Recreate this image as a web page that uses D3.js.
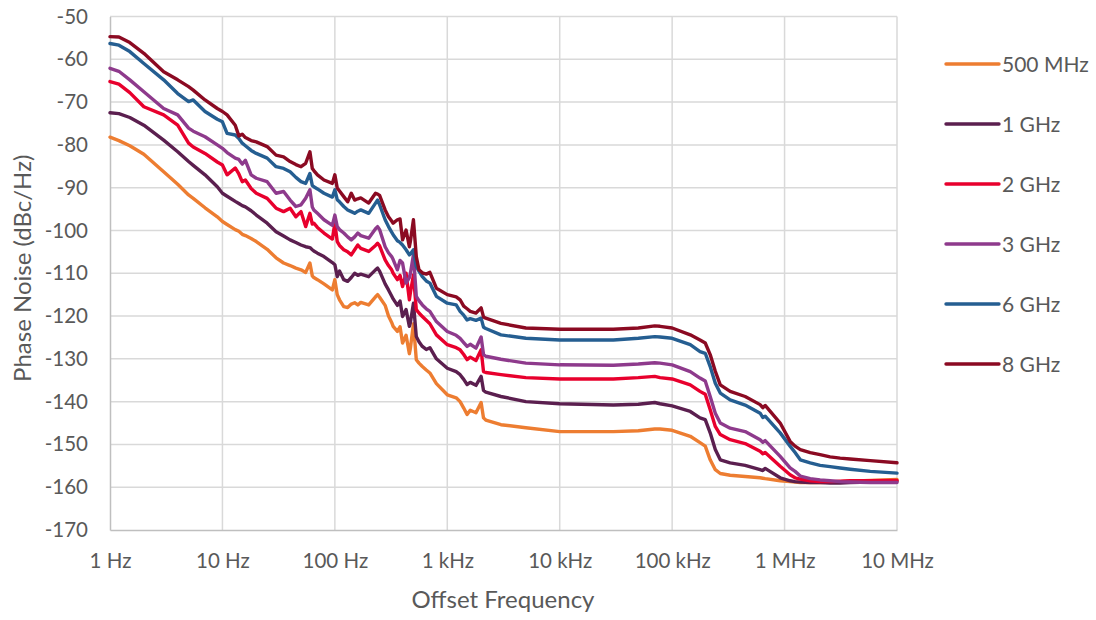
<!DOCTYPE html>
<html>
<head>
<meta charset="utf-8">
<script src="https://cdn.jsdelivr.net/npm/d3@7"></script>
<style>
  html, body { margin: 0; padding: 0; background: #fff; }
  svg { display: block; font-family: Lato, "Open Sans", sans-serif; }
</style>
</head>
<body>
<svg id="chart" width="1096" height="620"></svg>
<script>
// ---- Data ----
const seriesNames = ["500 MHz", "1 GHz", "2 GHz", "3 GHz", "6 GHz", "8 GHz"];
const seriesColors = ["#ED7D31", "#5B1F4F", "#E8002D", "#8E3A8C", "#255E91", "#8B0A22"];

const xTickValues = [1, 10, 100, 1e3, 1e4, 1e5, 1e6, 1e7];
const xTickLabels = ["1 Hz", "10 Hz", "100 Hz", "1 kHz", "10 kHz", "100 kHz", "1 MHz", "10 MHz"];
const yTickValues = [-50, -60, -70, -80, -90, -100, -110, -120, -130, -140, -150, -160, -170];

const freq = [1, 1.2, 1.5, 2, 3, 4, 5, 5.5, 7, 9,
  10, 11, 13, 14, 15, 16, 18, 20, 25, 30,
  35, 40, 45, 50, 55, 60, 63, 65, 70, 80,
  95, 100, 105, 110, 120, 130, 140, 150, 160, 170,
  200, 230, 240, 250, 280, 300, 320, 330, 360, 380,
  400, 430, 460, 470, 500, 530, 560, 600, 650, 700,
  800, 1000, 1200, 1300, 1400, 1500, 1600, 1800, 2000, 2100,
  2200, 3000, 5000, 10000, 30000, 50000, 70000, 78000, 100000, 145000,
  177000, 197000, 218000, 242000, 268000, 328000, 446000, 606000, 640000, 672000,
  914000, 1120000, 1240000, 1380000, 1690000, 2070000, 2540000, 3120000, 3830000, 5780000,
  10000000];

const pn500M = [-78.2, -79, -80.2, -82.2, -86.3, -89.2, -91.7, -92.5, -94.7, -96.8,
  -97.9, -98.6, -99.8, -100.2, -100.9, -101.2, -101.9, -102.6, -104.4, -106.4,
  -107.6, -108.2, -108.8, -109.2, -109.8, -107.6, -110.6, -111, -111.5, -112.5,
  -113.9, -111.5, -115, -116.2, -117.8, -118, -117.2, -116.9, -117.4, -116.8,
  -117.4, -115.5, -115, -115.6, -117.5, -120, -121.5, -122.4, -123.6, -122.5,
  -126.3, -124.5, -128.8, -127.5, -121.8, -130.2, -131, -131.8, -132.6, -133.3,
  -135.8, -138.4, -139.1, -140, -141.5, -143, -142, -142.6, -140.2, -143.8,
  -144.3, -145.4, -146.1, -147, -147, -146.8, -146.4, -146.4, -146.7, -148.1,
  -149.6, -150.4, -153.6, -155.9, -156.8, -157.2, -157.5, -157.8, -157.9, -158,
  -158.5, -158.7, -158.8, -158.9, -158.9, -158.9, -158.8, -158.7, -158.6, -158.4,
  -158.2];

const pn1G = [-72.5, -72.7, -73.6, -75.4, -78.9, -81.6, -83.9, -84.8, -87, -89.8,
  -91.3, -92, -93.2, -93.7, -94.2, -94.5, -95.4, -96.4, -98.3, -100.3,
  -101.3, -102.2, -102.8, -103.4, -103.8, -104, -104.5, -104.8, -105.3, -106.1,
  -107.5, -108, -110.8, -109.5, -111.5, -111.9, -111, -110, -110.5, -110.2,
  -110.8, -109.2, -108.8, -109.5, -112.5, -113.9, -115.3, -116, -117.5, -116.5,
  -120.1, -118.5, -122.4, -121.5, -117, -124.8, -126, -127.1, -127.8, -127.4,
  -130, -132.2, -133, -133.7, -134.8, -136, -135.5, -136.2, -134.1, -137.4,
  -137.8, -138.8, -140, -140.5, -140.8, -140.6, -140.2, -140.5, -141, -142.3,
  -143.8, -144.2, -147.3, -151.2, -153.6, -154.3, -154.9, -155.9, -156.1, -155.6,
  -157.8, -158.5, -158.7, -158.8, -158.9, -158.9, -159, -159, -158.9, -158.8,
  -158.6];

const pn2G = [-65.2, -65.8, -67.8, -71.1, -73, -75.4, -79.6, -80.5, -82, -84,
  -84.7, -87, -85.4, -86.8, -88.6, -88.2, -90.2, -91.3, -92.5, -94.8,
  -95.6, -94.8, -96.8, -95.6, -99.1, -96, -98.5, -98.3, -99.3, -100.6,
  -102, -98.3, -102.6, -103.5, -104.5, -105, -105.7, -104.5, -103.4, -104.2,
  -104.9, -103.5, -103, -103.6, -106.9, -108.2, -109.2, -110, -111.5, -110.5,
  -113.1, -110, -116.2, -114.5, -110.4, -118.5, -119.3, -120.1, -121, -121.8,
  -124.4, -126.7, -127.4, -127.9, -129, -130.2, -129.6, -130.4, -127.9, -133,
  -133.2, -133.7, -134.4, -134.7, -134.7, -134.4, -134.1, -134.4, -134.7, -136.1,
  -137.6, -138.3, -141.9, -145.8, -147.7, -148.9, -149.8, -151.6, -152.2, -151.9,
  -155.1, -157.1, -157.8, -158.1, -158.5, -158.7, -158.7, -158.6, -158.5, -158.5,
  -158.4];

const pn3G = [-62.1, -62.8, -64.8, -67.6, -71.5, -73, -76.1, -76.8, -78.1, -80,
  -80.8, -81.8, -83.1, -83.4, -84.5, -83.6, -87, -87.8, -88.6, -91.3,
  -90.9, -92.9, -94.4, -94, -92.5, -90.5, -94.5, -95.2, -96, -97.5,
  -98.8, -96.4, -99.1, -99.8, -100.6, -101.5, -102.2, -101.5, -100.6, -101.2,
  -101.8, -99.6, -99.1, -99.8, -103.8, -105.2, -106.1, -106.8, -109.2, -107,
  -107.6, -112.3, -111, -110, -105.7, -115.4, -116.4, -117.4, -118.3, -118.9,
  -121.3, -123.6, -124.5, -125.2, -126.2, -127.1, -126.6, -127.5, -124.9, -129,
  -129.4, -130.1, -131, -131.4, -131.5, -131.2, -130.9, -131, -131.4, -133,
  -134.5, -135.2, -138.8, -142.7, -145, -146.2, -147, -148.9, -149.5, -149.1,
  -152.8, -155.5, -156.3, -157.4, -158, -158.3, -158.5, -158.7, -158.8, -158.9,
  -158.9];

const pn6G = [-56.3, -56.7, -58.2, -61, -64.8, -68, -69.9, -69.5, -72.2, -74,
  -74.6, -77.3, -77.7, -78.5, -79.6, -80.2, -81.3, -82, -83.1, -85.1,
  -85.5, -86.3, -87.6, -88.6, -89, -86.7, -89.5, -89.8, -90.3, -91.3,
  -92.2, -90.5, -92.8, -93.3, -94.4, -95.2, -95.6, -96, -95.5, -95.2,
  -96, -93.6, -92.9, -94, -97.5, -99.1, -100.4, -101, -102.4, -102.8,
  -103.4, -104.5, -105.7, -105.5, -104.5, -108.4, -109.5, -110.8, -111.8, -112.3,
  -115.4, -117, -117.4, -118.9, -119.8, -120.9, -120.6, -121, -120.5, -122.6,
  -122.9, -124.4, -125.2, -125.6, -125.6, -125.2, -124.8, -124.9, -125.2, -126.7,
  -128.3, -128.7, -131.8, -135.7, -138, -139.6, -140.8, -142.7, -143.7, -143.4,
  -147.3, -150.4, -151.9, -153.6, -154.3, -154.9, -155.2, -155.5, -155.8, -156.3,
  -156.7];

const pn8G = [-54.7, -54.8, -56.1, -58.6, -62.9, -64.8, -66.4, -67.2, -69.5, -71.5,
  -72.2, -73, -75.4, -77.9, -77.5, -78.3, -79, -79.3, -80.4, -82.4,
  -82.8, -83.9, -84.6, -85.1, -84.3, -81.6, -85.5, -86, -87, -88.2,
  -89, -87, -90.1, -90.8, -92.1, -93.3, -91.3, -92.9, -92.6, -92.4,
  -93.6, -91.3, -91.5, -91.8, -95.2, -96.8, -97.8, -98.3, -97.5, -97.3,
  -102.2, -99.9, -103.8, -102.5, -97.5, -106.1, -109.2, -109.9, -110.2, -109.8,
  -113.5, -115, -115.5, -116.2, -117.7, -118.3, -118.9, -119.3, -118.1, -120.2,
  -120.5, -121.7, -122.8, -123.1, -123.1, -122.8, -122.3, -122.4, -122.8, -124.4,
  -125.6, -126.3, -129, -132.9, -136.1, -137.6, -138.8, -140.7, -141.4, -140.9,
  -145, -149.3, -150.4, -151.2, -151.9, -152.4, -152.9, -153.2, -153.4, -153.8,
  -154.3];

const seriesValues = [pn500M, pn1G, pn2G, pn3G, pn6G, pn8G];

// ---- Layout ----
const svg = d3.select("#chart");
const plot = { left: 110, right: 897, top: 16.5, bottom: 530 };
const textColor = "#595959";
const tickFont = 20.5;
const titleFont = 24;
const fontFamily = "Lato, 'Open Sans', sans-serif";

const x = d3.scaleLog().domain([1, 1e7]).range([plot.left, plot.right]);
const y = d3.scaleLinear().domain([-170, -50]).range([plot.bottom, plot.top]);

// Gridlines
const grid = svg.append("g");
grid.selectAll("line.h").data(yTickValues.filter(v => v !== -170)).enter().append("line")
  .attr("x1", plot.left).attr("x2", plot.right)
  .attr("y1", d => y(d)).attr("y2", d => y(d))
  .attr("stroke", "#D9D9D9").attr("stroke-width", 1.5);
grid.selectAll("line.v").data(xTickValues.slice(1)).enter().append("line")
  .attr("x1", d => x(d)).attr("x2", d => x(d))
  .attr("y1", plot.top).attr("y2", plot.bottom)
  .attr("stroke", "#D9D9D9").attr("stroke-width", 1.5);

// Axes
const xAxis = d3.axisBottom(x).tickValues(xTickValues)
  .tickFormat((d, i) => xTickLabels[i]).tickSize(0).tickPadding(23);
const gx = svg.append("g").attr("transform", `translate(0,${plot.bottom})`).call(xAxis);
gx.select(".domain").attr("stroke", "#BFBFBF").attr("stroke-width", 1.5);
gx.selectAll("text").attr("fill", textColor).style("font-size", tickFont + "px")
  .style("font-family", fontFamily);

const yAxis = d3.axisLeft(y).tickValues(yTickValues).tickFormat(d => String(d))
  .tickSize(0).tickPadding(22);
const gy = svg.append("g").attr("transform", `translate(${plot.left},0)`).call(yAxis);
gy.select(".domain").attr("stroke", "#BFBFBF").attr("stroke-width", 1.5);
gy.selectAll("text").attr("fill", textColor).style("font-size", tickFont + "px")
  .style("font-family", fontFamily);

// Axis titles
svg.append("text")
  .attr("x", 503).attr("y", 608)
  .attr("text-anchor", "middle").attr("fill", textColor)
  .style("font-size", titleFont + "px").text("Offset Frequency");
svg.append("text")
  .attr("transform", `translate(31,${(plot.top + plot.bottom) / 2 - 5}) rotate(-90)`)
  .attr("text-anchor", "middle").attr("fill", textColor)
  .style("font-size", titleFont + "px").text("Phase Noise (dBc/Hz)");

// Lines
const line = d3.line().x(d => x(d[0])).y(d => y(d[1])).curve(d3.curveLinear);
seriesValues.forEach((vals, i) => {
  const pts = freq.map((f, j) => [f, vals[j]]);
  svg.append("path").datum(pts)
    .attr("d", line)
    .attr("fill", "none")
    .attr("stroke", seriesColors[i])
    .attr("stroke-width", 3.4)
    .attr("stroke-linejoin", "round")
    .attr("stroke-linecap", "round");
});

// Legend
const legend = svg.append("g");
seriesNames.forEach((name, i) => {
  const ly = 64 + i * 60;
  legend.append("line").attr("x1", 946).attr("x2", 999).attr("y1", ly).attr("y2", ly)
    .attr("stroke", seriesColors[i]).attr("stroke-width", 3.4).attr("stroke-linecap", "round");
  legend.append("text").attr("x", 1002).attr("y", ly).attr("dy", "0.36em")
    .attr("fill", textColor).style("font-size", "21px").text(name);
});
</script>
</body>
</html>
